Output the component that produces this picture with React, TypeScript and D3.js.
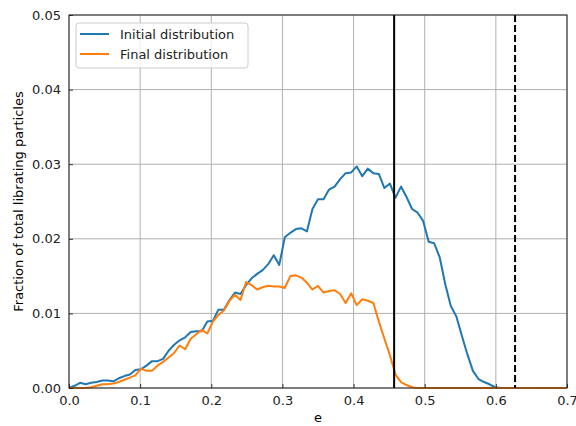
import React, { useEffect, useRef } from 'react';
import * as d3 from 'd3';

// bin centres run from 0 to 0.7 in 90 steps
const binCount = 91;
const binStep = 0.7 / 90;

// fraction of particles, in units of 1e-3
const initialDist = [
  0, 0.3, 0.7, 0.5, 0.7, 0.8, 1.0, 1.0, 0.9, 1.3,
  1.6, 1.8, 2.4, 2.5, 3.0, 3.6, 3.6, 3.9, 5.0, 5.8,
  6.4, 6.8, 7.5, 7.6, 7.6, 8.9, 9.0, 10.5, 10.5, 11.8,
  12.8, 12.6, 13.8, 14.7, 15.3, 15.8, 16.6, 17.8, 16.5, 20.2,
  20.8, 21.3, 21.4, 21.0, 24.0, 25.3, 25.3, 26.6, 27.0, 28.0,
  28.8, 28.9, 29.7, 28.4, 29.4, 28.8, 28.7, 26.8, 27.4, 25.5,
  27.0, 25.6, 24.0, 23.5, 22.4, 19.6, 19.4, 17.5, 13.9, 11.0,
  9.6, 7.0, 4.5, 2.3, 1.2, 0.8, 0.5, 0.1, 0, 0,
  0, 0, 0, 0, 0, 0, 0, 0, 0, 0, 0,
];

const finalDist = [
  0, 0, 0, 0, 0.1, 0.3, 0.5, 0.5, 0.6, 0.8,
  1.1, 1.4, 1.7, 2.6, 2.3, 2.3, 3.0, 3.5, 4.1, 4.7,
  5.7, 5.2, 6.6, 7.2, 7.8, 7.3, 8.9, 9.8, 10.4, 11.7,
  12.5, 11.8, 14.2, 13.8, 13.2, 13.5, 13.7, 13.6, 13.6, 13.4,
  15.0, 15.1, 14.8, 14.1, 13.2, 13.7, 12.8, 13.0, 13.1, 12.6,
  11.4, 12.7, 11.1, 11.9, 11.7, 11.4, 8.9, 6.6, 4.4, 1.8,
  0.8, 0.4, 0.1, 0, 0, 0, 0, 0, 0, 0,
  0, 0, 0, 0, 0, 0, 0, 0, 0, 0,
  0, 0, 0, 0, 0, 0, 0, 0, 0, 0, 0,
];

const seriesNames = ['Initial distribution', 'Final distribution'];
const seriesColors = ['#1f77b4', '#ff7f0e'];
const xTicks = [0, 0.1, 0.2, 0.3, 0.4, 0.5, 0.6, 0.7];
const yTicks = [0, 0.01, 0.02, 0.03, 0.04, 0.05];
const solidLineE = 0.457;
const dashedLineE = 0.627;

const App = () => {
  const ref = useRef<SVGSVGElement | null>(null);

  useEffect(() => {
    const svg = d3.select(ref.current);
    svg.selectAll('*').remove();

    const margin = { top: 15, right: 9, bottom: 38, left: 69 };
    const width = 576, height = 426;
    const w = width - margin.left - margin.right;
    const h = height - margin.top - margin.bottom;

    const x = d3.scaleLinear().domain([0, 0.7]).range([0, w]);
    const y = d3.scaleLinear().domain([0, 0.05]).range([h, 0]);

    const g = svg.append('g').attr('transform', `translate(${margin.left},${margin.top})`);

    // grid
    g.append('g').selectAll('line').data(xTicks).join('line')
      .attr('x1', d => x(d)).attr('x2', d => x(d))
      .attr('y1', 0).attr('y2', h)
      .attr('stroke', '#b0b0b0').attr('stroke-width', 1);
    g.append('g').selectAll('line').data(yTicks).join('line')
      .attr('y1', d => y(d)).attr('y2', d => y(d))
      .attr('x1', 0).attr('x2', w)
      .attr('stroke', '#b0b0b0').attr('stroke-width', 1);

    const binsE = d3.range(binCount).map(i => i * binStep);
    const line = d3.line<number>()
      .x((d, i) => x(binsE[i]))
      .y(d => y(d / 1000));

    [initialDist, finalDist].forEach((data, k) => {
      g.append('path')
        .datum(data)
        .attr('d', line)
        .attr('fill', 'none')
        .attr('stroke', seriesColors[k])
        .attr('stroke-width', 2)
        .attr('stroke-linejoin', 'round');
    });

    // vertical markers
    g.append('line')
      .attr('x1', x(solidLineE)).attr('x2', x(solidLineE))
      .attr('y1', 0).attr('y2', h)
      .attr('stroke', '#000').attr('stroke-width', 2);
    g.append('line')
      .attr('x1', x(dashedLineE)).attr('x2', x(dashedLineE))
      .attr('y1', 0).attr('y2', h)
      .attr('stroke', '#000').attr('stroke-width', 2)
      .attr('stroke-dasharray', '7,3');

    // axes
    const xAxis = d3.axisBottom(x).tickValues(xTicks).tickFormat(d3.format('.1f'))
      .tickSizeInner(-4).tickSizeOuter(0).tickPadding(8);
    const yAxis = d3.axisLeft(y).tickValues(yTicks).tickFormat(d3.format('.2f'))
      .tickSizeInner(-4).tickSizeOuter(0).tickPadding(8);

    const $x = g.append('g').attr('transform', `translate(0,${h})`).call(xAxis);
    const $y = g.append('g').call(yAxis);
    [$x, $y].forEach(a => {
      a.select('.domain').remove();
      a.selectAll('text').attr('font-family', 'DejaVu Sans').attr('font-size', 13).attr('fill', '#222');
      a.selectAll('line').attr('stroke', '#333');
    });

    g.append('rect')
      .attr('width', w).attr('height', h)
      .attr('fill', 'none').attr('stroke', '#222').attr('stroke-width', 1);

    // labels
    svg.append('text')
      .attr('x', margin.left + w / 2).attr('y', 422)
      .attr('text-anchor', 'middle')
      .attr('font-family', 'DejaVu Sans').attr('font-size', 13)
      .text('e');
    svg.append('text')
      .attr('transform', `translate(23,${margin.top + h / 2}) rotate(-90)`)
      .attr('text-anchor', 'middle')
      .attr('font-family', 'DejaVu Sans').attr('font-size', 13)
      .text('Fraction of total librating particles');

    // legend
    const lg = g.append('g').attr('transform', 'translate(7,8)');
    lg.append('rect')
      .attr('width', 172).attr('height', 45).attr('rx', 3)
      .attr('fill', '#fff').attr('fill-opacity', 0.8)
      .attr('stroke', '#ccc');
    seriesNames.forEach((name, i) => {
      lg.append('line')
        .attr('x1', 4).attr('x2', 33)
        .attr('y1', 11 + i * 20).attr('y2', 11 + i * 20)
        .attr('stroke', seriesColors[i]).attr('stroke-width', 2);
      lg.append('text')
        .attr('x', 44).attr('y', 15.5 + i * 20)
        .attr('font-family', 'DejaVu Sans').attr('font-size', 13)
        .attr('fill', '#222')
        .text(name);
    });
  }, []);

  return (
    <svg ref={ref} width={576} height={426}
      style={{ position: 'absolute', left: 0, top: 0, background: '#fff' }} />
  );
};

export default App;
